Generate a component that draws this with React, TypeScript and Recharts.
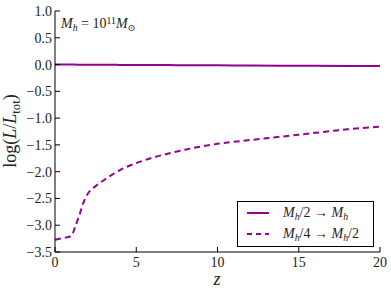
import { Line, LineChart, XAxis, YAxis } from 'recharts';

// redshift grid and the two luminosity fractions
const Z = [0, 0.5, 1, 1.25, 1.5, 1.75, 2, 2.5, 3, 3.5, 4, 5, 6, 7, 8, 9, 10, 12, 15, 18, 20];
const HALF_TO_FULL = [0, 0, 0, -0.001, -0.002, -0.002, -0.003, -0.004, -0.005, -0.005, -0.006, -0.008, -0.009, -0.01, -0.012, -0.013, -0.015, -0.018, -0.022, -0.026, -0.028];
const QUARTER_TO_HALF = [-3.27, -3.24, -3.2, -3.02, -2.81, -2.58, -2.42, -2.27, -2.16, -2.06, -1.97, -1.84, -1.74, -1.66, -1.59, -1.53, -1.48, -1.41, -1.31, -1.21, -1.16];

const X_TICKS = [0, 5, 10, 15, 20];
const Y_TICKS = [1, 0.5, 0, -0.5, -1, -1.5, -2, -2.5, -3, -3.5];

const PURPLE = '#930093';
const SERIF = '"Liberation Serif", "DejaVu Serif", serif';

const data = Z.map((z, i) => ({ z, half: HALF_TO_FULL[i], quarter: QUARTER_TO_HALF[i] }));

const fmtY = (v: number) => (v < 0 ? '\u2212' : '') + Math.abs(v).toFixed(1);

const LeftTick = (p: any) => (
  <g>
    <line x1={p.x} x2={p.x + 5} y1={p.y} y2={p.y} stroke="#000" />
    <text x={p.x - 3} y={p.y} dy={5} textAnchor="end" fontSize={14} fontFamily={SERIF} fill="#222">
      {fmtY(p.payload.value)}
    </text>
  </g>
);

const RightTick = (p: any) => <line x1={p.x} x2={p.x - 5} y1={p.y} y2={p.y} stroke="#000" />;

const BottomTick = (p: any) => (
  <g>
    <line x1={p.x} x2={p.x} y1={p.y} y2={p.y - 5} stroke="#000" />
    <text x={p.x} y={p.y} dy={15} textAnchor="middle" fontSize={14} fontFamily={SERIF} fill="#222">
      {p.payload.value}
    </text>
  </g>
);

const TopTick = (p: any) => <line x1={p.x} x2={p.x} y1={p.y} y2={p.y + 5} stroke="#000" />;

const Sub = ({ children }: { children: any }) => (
  <span style={{ fontSize: '0.7em', position: 'relative', top: '0.3em' }}>{children}</span>
);
const Sup = ({ children }: { children: any }) => (
  <span style={{ fontSize: '0.7em', position: 'relative', top: '-0.45em' }}>{children}</span>
);

const Mh = () => (
  <>
    <i>M</i>
    <Sub>
      <i>h</i>
    </Sub>
  </>
);

export default function App() {
  return (
    <div style={{ position: 'absolute', left: 0, top: 0, width: 391, height: 291, background: '#fff', fontFamily: SERIF, color: '#222' }}>
      <LineChart width={391} height={291} data={data} margin={{ top: 11, right: 11, left: 0, bottom: 0 }}>
        <XAxis xAxisId="bottom" dataKey="z" type="number" domain={[0, 20]} ticks={X_TICKS} height={39}
          tickSize={0} tickMargin={0} tickLine={false} axisLine={{ stroke: '#000' }} tick={<BottomTick />} />
        <XAxis xAxisId="top" orientation="top" dataKey="z" type="number" domain={[0, 20]} ticks={X_TICKS} height={0}
          tickSize={0} tickMargin={0} tickLine={false} axisLine={{ stroke: '#000' }} tick={<TopTick />} />
        <YAxis yAxisId="left" type="number" domain={[-3.5, 1]} ticks={Y_TICKS} width={55}
          tickSize={0} tickMargin={0} tickLine={false} axisLine={{ stroke: '#000' }} tick={<LeftTick />} />
        <YAxis yAxisId="right" orientation="right" type="number" domain={[-3.5, 1]} ticks={Y_TICKS} width={0}
          tickSize={0} tickMargin={0} tickLine={false} axisLine={{ stroke: '#000' }} tick={<RightTick />} />
        <Line xAxisId="bottom" yAxisId="left" type="monotone" dataKey="half" stroke={PURPLE} strokeWidth={2}
          dot={false} isAnimationActive={false} />
        <Line xAxisId="bottom" yAxisId="left" type="monotone" dataKey="quarter" stroke={PURPLE} strokeWidth={2}
          strokeDasharray="6 4" dot={false} isAnimationActive={false} />
      </LineChart>

      {/* annotation */}
      <div style={{ position: 'absolute', left: 61, top: 17, fontSize: 14, lineHeight: 1, whiteSpace: 'nowrap' }}>
        <Mh /> = 10<Sup>11</Sup>
        <i>M</i>
        <Sub>⊙</Sub>
      </div>

      {/* y label */}
      <div style={{ position: 'absolute', left: 10, top: 131, transform: 'translate(-50%, -50%) rotate(-90deg)', fontSize: 18, lineHeight: 1, whiteSpace: 'nowrap' }}>
        log(<i>L</i>/<i>L</i>
        <Sub>tot</Sub>)
      </div>

      {/* x label */}
      <div style={{ position: 'absolute', left: 217, top: 279, transform: 'translate(-50%, -50%)', fontSize: 18, lineHeight: 1 }}>
        <i>z</i>
      </div>

      {/* legend */}
      <div style={{ position: 'absolute', left: 237, top: 201, width: 135, height: 44, border: '1px solid #000', background: '#fff', fontSize: 14 }}>
        <div style={{ position: 'absolute', left: 8, top: 3, display: 'flex', alignItems: 'center', whiteSpace: 'nowrap' }}>
          <svg width={24} height={14}>
            <line x1={1} x2={23} y1={7} y2={7} stroke={PURPLE} strokeWidth={2} />
          </svg>
          <span style={{ marginLeft: 13 }}>
            <Mh />/2 → <Mh />
          </span>
        </div>
        <div style={{ position: 'absolute', left: 8, top: 24, display: 'flex', alignItems: 'center', whiteSpace: 'nowrap' }}>
          <svg width={24} height={14}>
            <line x1={1} x2={23} y1={7} y2={7} stroke={PURPLE} strokeWidth={2} strokeDasharray="5 4" />
          </svg>
          <span style={{ marginLeft: 13 }}>
            <Mh />/4 → <Mh />/2
          </span>
        </div>
      </div>
    </div>
  );
}
